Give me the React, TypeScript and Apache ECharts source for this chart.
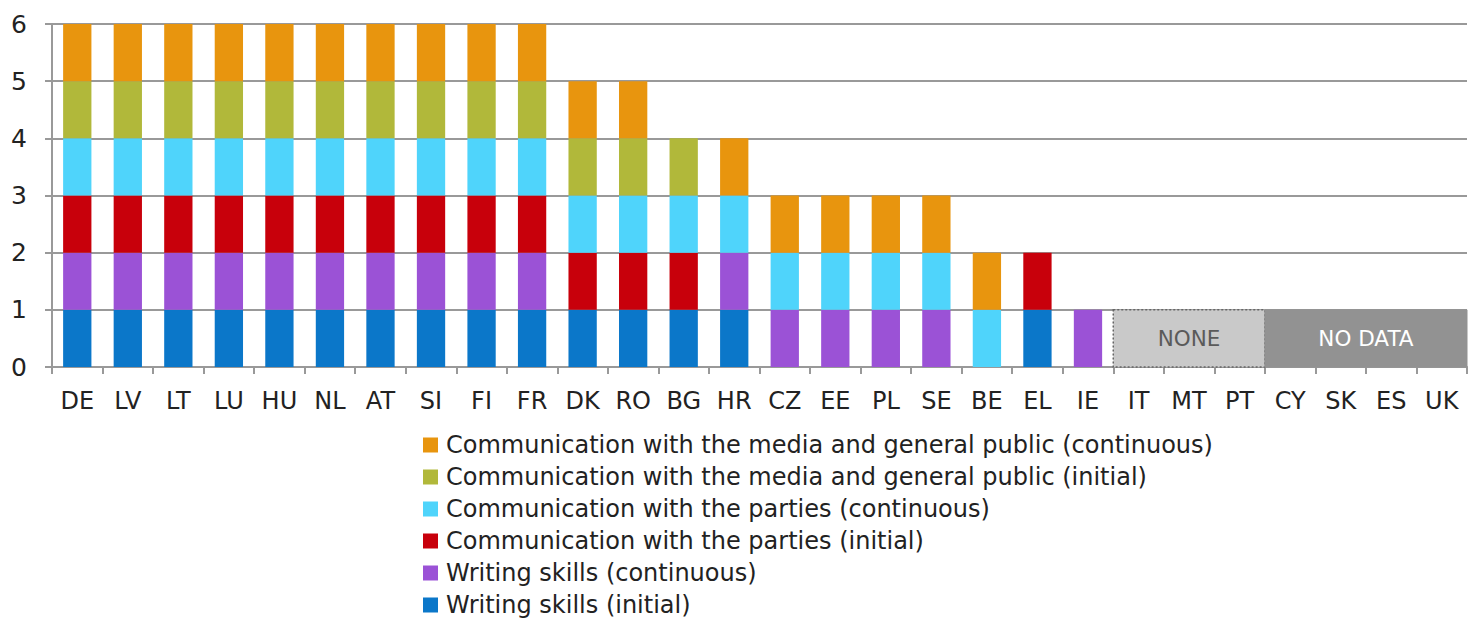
import React, { useEffect, useRef } from "react";
import * as echarts from "echarts";

const categories = ["DE","LV","LT","LU","HU","NL","AT","SI","FI","FR","DK","RO","BG","HR","CZ","EE","PL","SE","BE","EL","IE","IT","MT","PT","CY","SK","ES","UK"];

const seriesNames = [
  "Writing skills (initial)",
  "Writing skills (continuous)",
  "Communication with the parties (initial)",
  "Communication with the parties (continuous)",
  "Communication with the media and general public (initial)",
  "Communication with the media and general public (continuous)",
];
const seriesColors = ["#0b77c9", "#9b52d6", "#c8000b", "#4fd4fb", "#b1b83a", "#e8950e"];

//                            DE LV LT LU HU NL AT SI FI FR DK RO BG HR CZ EE PL SE BE EL IE IT MT PT CY SK ES UK
const writingInitial       = [1, 1, 1, 1, 1, 1, 1, 1, 1, 1, 1, 1, 1, 1, 0, 0, 0, 0, 0, 1, 0, 0, 0, 0, 0, 0, 0, 0];
const writingContinuous    = [1, 1, 1, 1, 1, 1, 1, 1, 1, 1, 0, 0, 0, 1, 1, 1, 1, 1, 0, 0, 1, 0, 0, 0, 0, 0, 0, 0];
const partiesInitial       = [1, 1, 1, 1, 1, 1, 1, 1, 1, 1, 1, 1, 1, 0, 0, 0, 0, 0, 0, 1, 0, 0, 0, 0, 0, 0, 0, 0];
const partiesContinuous    = [1, 1, 1, 1, 1, 1, 1, 1, 1, 1, 1, 1, 1, 1, 1, 1, 1, 1, 1, 0, 0, 0, 0, 0, 0, 0, 0, 0];
const mediaInitial         = [1, 1, 1, 1, 1, 1, 1, 1, 1, 1, 1, 1, 1, 0, 0, 0, 0, 0, 0, 0, 0, 0, 0, 0, 0, 0, 0, 0];
const mediaContinuous      = [1, 1, 1, 1, 1, 1, 1, 1, 1, 1, 1, 1, 0, 1, 1, 1, 1, 1, 1, 0, 0, 0, 0, 0, 0, 0, 0, 0];

const seriesValues = [writingInitial, writingContinuous, partiesInitial, partiesContinuous, mediaInitial, mediaContinuous];

// Status boxes: [first category, last category, height]
const statusBoxes = [["IT", "PT", 1], ["CY", "UK", 1]];
const statusLabels = ["NONE", "NO DATA"];
const yTicks = [0, 1, 2, 3, 4, 5, 6];

const FONT = "'DejaVu Sans', sans-serif";

export default function App() {
  const ref = useRef<HTMLDivElement>(null);
  useEffect(() => {
    if (!ref.current) return;
    const chart = echarts.init(ref.current, null, { renderer: "svg" });
    const barSeries = seriesNames.map((name, i) => ({
      name,
      type: "bar",
      stack: "total",
      barWidth: "56%",
      itemStyle: { color: seriesColors[i] },
      data: seriesValues[i].map((v) => (v === 0 ? null : v)),
      z: 3,
    }));
    const boxSeries = {
      type: "custom",
      name: "status",
      z: 4,
      encode: { x: 0, y: 2 },
      data: statusBoxes.map((b) => [categories.indexOf(b[0] as string), categories.indexOf(b[1] as string), b[2]]),
      renderItem: (params: any, api: any) => {
        const s = api.value(0);
        const e = api.value(1);
        const h = api.value(2);
        const p0 = api.coord([s, h]);
        const p1 = api.coord([e, 0]);
        const bw = api.size([1, 0])[0];
        const x = p0[0] - bw / 2;
        const w = p1[0] - p0[0] + bw;
        const y = p0[1];
        const hh = p1[1] - p0[1];
        const isNone = params.dataIndex === 0;
        return {
          type: "group",
          children: [
            {
              type: "rect",
              shape: { x, y, width: w, height: hh },
              style: isNone
                ? { fill: "#c9c9c9", stroke: "#666", lineWidth: 1.5, lineDash: [2, 2] }
                : { fill: "#929292", stroke: "#929292", lineWidth: 1 },
            },
            {
              type: "text",
              x: x + w / 2,
              y: y + hh / 2,
              style: {
                text: statusLabels[params.dataIndex],
                align: "center",
                verticalAlign: "middle",
                fontSize: 21.5,
                fontFamily: FONT,
                fill: isNone ? "#5a5a5a" : "#ffffff",
              },
            },
          ],
        };
      },
    };
    chart.setOption({
      animation: false,
      grid: { left: 52, right: 12, top: 24, bottom: 252, containLabel: false },
      legend: {
        orient: "vertical",
        left: 423,
        top: 433,
        width: 1000,
        height: 230,
        padding: 0,
        data: [...seriesNames].reverse(),
        itemWidth: 15,
        itemHeight: 15,
        itemGap: 8,
        icon: "rect",
        selectedMode: false,
        textStyle: { fontSize: 24, fontFamily: FONT, color: "#222", padding: [0, 0, 0, 3] },
      },
      xAxis: {
        type: "category",
        data: categories,
        axisLine: { lineStyle: { color: "#999", width: 2 } },
        axisTick: { show: true, length: 7, lineStyle: { color: "#999", width: 2 } },
        axisLabel: { fontSize: 24, fontFamily: FONT, color: "#222", margin: 22, interval: 0 },
      },
      yAxis: {
        type: "value",
        min: 0,
        max: 6,
        interval: 1,
        axisLine: { show: true, lineStyle: { color: "#999", width: 2 } },
        axisTick: { show: true, length: 7, lineStyle: { color: "#999", width: 2 } },
        axisLabel: { fontSize: 25, fontFamily: FONT, color: "#222", margin: 25, formatter: (v: number) => (yTicks.includes(v) ? String(v) : "") },
        splitLine: { lineStyle: { color: "#999", width: 2 } },
      },
      series: [...barSeries, boxSeries],
    });
    return () => chart.dispose();
  }, []);
  return <div ref={ref} style={{ width: 1479, height: 619, position: "absolute", left: 0, top: 0 }} />;
}
